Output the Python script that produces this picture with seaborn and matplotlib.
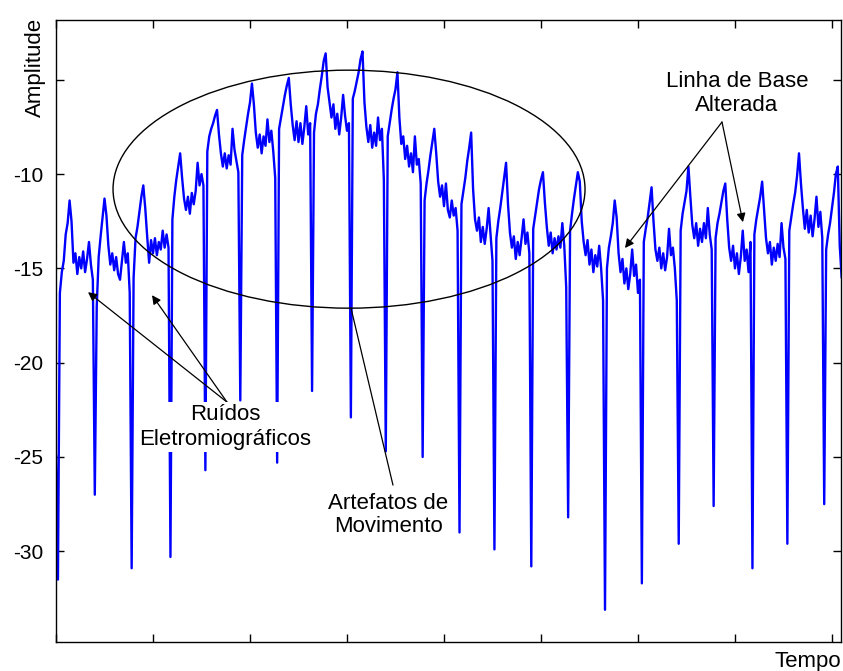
import numpy as np
import pandas as pd
import matplotlib
matplotlib.use("Agg")
import matplotlib.pyplot as plt
from matplotlib.patches import Ellipse
import seaborn as sns

# ---------------- data ----------------
sample_step = 0.02  # time units between samples (one x tick = 1 unit)

amplitude = [
    -24.9, -31.5, -16.3, -15.2, -14.6, -13.2, -12.6, -11.4, -12.5, -14.7,
    -14.2, -15.3, -14.4, -15.0, -14.1, -15.2, -14.5, -13.6, -14.8, -15.6,
    -27.0, -17.0, -14.4, -13.3, -12.3, -11.3, -12.2, -13.8, -14.8, -14.2,
    -15.1, -14.4, -15.3, -15.6, -14.6, -13.6, -14.7, -14.2, -16.3, -30.9,
    -15.5, -13.4, -12.8, -12.0, -11.2, -10.6, -11.8, -13.3, -14.7, -13.5,
    -14.2, -13.4, -14.3, -13.6, -14.0, -13.0, -13.9, -13.2, -13.9, -30.3,
    -12.4, -11.2, -10.3, -9.6, -8.9, -10.2, -11.3, -11.9, -11.2, -12.1,
    -11.0, -11.6, -10.9, -9.4, -10.6, -10.0, -10.6, -25.7, -8.8, -8.0,
    -7.6, -7.3, -6.9, -6.6, -7.9, -8.9, -9.6, -8.9, -9.7, -9.0,
    -9.5, -7.6, -8.7, -9.3, -9.9, -22.0, -9.0, -8.2, -7.5, -6.8,
    -6.2, -5.2, -6.3, -7.8, -8.6, -7.9, -8.9, -8.0, -8.5, -7.1,
    -8.3, -7.7, -8.8, -10.2, -25.3, -7.6, -7.0, -6.4, -5.8, -5.3,
    -4.9, -6.3, -7.4, -8.2, -7.2, -8.3, -7.3, -8.4, -7.5, -6.4,
    -7.9, -7.3, -21.5, -7.8, -6.8, -6.3, -5.5, -4.8, -4.0, -3.6,
    -5.4, -6.2, -7.0, -6.3, -7.6, -6.8, -7.9, -7.0, -5.8, -6.9,
    -7.7, -7.3, -22.9, -6.0, -5.6, -5.1, -4.6, -3.9, -3.5, -6.2,
    -7.5, -8.3, -7.4, -8.6, -7.8, -8.5, -7.0, -8.2, -7.6, -10.3,
    -24.7, -8.0, -7.3, -6.6, -6.0, -5.5, -4.6, -7.0, -8.4, -8.0,
    -9.2, -8.5, -9.6, -8.9, -9.9, -8.0, -9.5, -9.2, -10.5, -25.0,
    -11.4, -10.5, -9.8, -9.0, -8.3, -7.6, -8.9, -10.4, -11.2, -10.6,
    -11.7, -10.5, -11.9, -12.3, -11.4, -12.2, -11.8, -13.0, -29.0, -11.6,
    -10.9, -10.2, -9.3, -8.6, -7.8, -10.8, -12.4, -13.0, -12.3, -13.6,
    -12.8, -13.7, -12.9, -11.8, -13.2, -14.6, -29.9, -13.4, -12.5, -11.8,
    -11.0, -10.2, -9.4, -11.6, -13.1, -13.9, -13.3, -14.5, -13.6, -14.3,
    -13.4, -12.4, -13.7, -13.1, -14.2, -30.8, -12.9, -12.2, -11.5, -10.8,
    -10.3, -9.9, -11.5, -12.8, -13.8, -13.1, -14.2, -13.4, -14.0, -13.3,
    -13.9, -12.6, -13.8, -16.0, -28.2, -13.0, -12.1, -11.3, -10.6, -9.9,
    -10.4, -12.5, -13.6, -14.3, -13.5, -14.8, -14.0, -15.2, -14.3, -14.9,
    -13.8, -15.0, -16.7, -33.1, -15.0, -13.9, -13.3, -12.6, -11.4, -12.3,
    -14.2, -15.2, -14.5, -15.8, -15.0, -16.1, -15.3, -14.0, -15.4, -14.8,
    -16.3, -15.6, -31.7, -13.6, -12.9, -12.3, -11.5, -10.7, -12.5, -14.0,
    -14.6, -13.9, -15.0, -14.2, -15.1, -14.4, -12.9, -14.3, -13.9, -15.0,
    -16.7, -29.6, -13.0, -12.1, -11.5, -10.9, -9.6, -11.2, -12.7, -13.4,
    -12.6, -13.8, -12.9, -13.6, -12.6, -13.4, -11.8, -13.2, -14.0, -27.6,
    -13.4, -12.6, -12.1, -11.5, -10.9, -10.5, -12.4, -13.9, -14.6, -13.8,
    -15.0, -14.2, -15.3, -14.4, -13.0, -14.6, -14.0, -15.2, -13.6, -30.9,
    -13.2, -12.4, -11.8, -11.2, -10.4, -11.9, -13.4, -14.2, -13.6, -14.8,
    -13.9, -14.6, -13.7, -14.4, -12.6, -13.9, -14.5, -29.6, -13.0, -12.3,
    -11.6, -11.0, -10.1, -8.9, -10.5, -11.8, -12.9, -11.9, -13.1, -12.2,
    -13.3, -12.4, -11.2, -12.8, -12.0, -13.4, -27.5, -14.0, -13.2, -12.6,
    -11.8, -11.0, -10.0, -9.6, -13.8, -15.5,
]

x_ticks = [0, 1, 2, 3, 4, 5, 6, 7, 8]
y_ticks = [-30, -25, -20, -15, -10, -5]
y_tick_labels = ["-30", "-25", "-20", "-15", "-10", ""]

x_label = "Tempo"
y_label = "Amplitude"

# annotations: (text, text position, arrow targets)
emg_text = "Ruídos\nEletromiográficos"
emg_text_pos = (1.742, -23.41)
emg_arrow_from = (1.763, -22.09)
emg_targets = [(0.330, -16.26), (0.990, -16.42)]

motion_text = "Artefatos de\nMovimento"
motion_text_pos = (3.423, -28.08)
motion_line = [(3.474, -26.49), (3.041, -17.10)]
motion_ellipse_center = (3.021, -10.80)
motion_ellipse_size = (4.866, 12.62)

baseline_text = "Linha de Base\nAlterada"
baseline_text_pos = (7.02, -5.73)
baseline_arrow_from = (6.866, -7.24)
baseline_targets = [(5.866, -13.92), (7.082, -12.55)]

# ---------------- style ----------------
sns.set_style("ticks")
plt.rcParams["font.family"] = ["Liberation Sans", "DejaVu Sans"]

time = np.arange(len(amplitude)) * sample_step
df = pd.DataFrame({"Tempo": time, "Amplitude": amplitude})

W, H = 843, 671
fig = plt.figure(figsize=(W / 100, H / 100), dpi=100)
fig.patch.set_facecolor("white")
ax = fig.add_axes([56 / W, (H - 642) / H, (841 - 56) / W, (642 - 20) / H])

sns.lineplot(data=df, x="Tempo", y="Amplitude", ax=ax, color="#0000ff",
             linewidth=1.7, estimator=None, sort=False)

ax.set_xlim(0, 8.093)
ax.set_ylim(-34.81, -1.83)
ax.set_xticks(x_ticks)
ax.set_xticklabels([])
ax.set_yticks(y_ticks)
ax.set_yticklabels(y_tick_labels)
ax.set_xlabel("")
ax.set_ylabel("")

for s in ax.spines.values():
    s.set_visible(True)
    s.set_color("black")
    s.set_linewidth(1.0)

ax.tick_params(axis="both", direction="in", top=True, right=True, length=6,
               width=1.0, colors="black", labelsize=15, pad=9)

# ellipse around motion artefacts
ell = Ellipse(motion_ellipse_center, motion_ellipse_size[0], motion_ellipse_size[1],
              fill=False, edgecolor="black", linewidth=1.0, zorder=4)
ax.add_patch(ell)

arrow_kw = dict(arrowstyle="-|>", color="black", lw=0.9, mutation_scale=13,
                shrinkA=0, shrinkB=0)

for tgt in emg_targets:
    ax.annotate("", xy=tgt, xytext=emg_arrow_from, arrowprops=arrow_kw, zorder=4)
ax.text(*emg_text_pos, emg_text, ha="center", va="center", fontsize=16,
        color="black", linespacing=1.2, zorder=5,
        bbox=dict(facecolor="white", edgecolor="none", pad=1.5))

ax.plot([motion_line[0][0], motion_line[1][0]], [motion_line[0][1], motion_line[1][1]],
        color="black", lw=0.9, zorder=4)
ax.text(*motion_text_pos, motion_text, ha="center", va="center", fontsize=16,
        color="black", linespacing=1.15, zorder=5)

for tgt in baseline_targets:
    ax.annotate("", xy=tgt, xytext=baseline_arrow_from, arrowprops=arrow_kw, zorder=4)
ax.text(*baseline_text_pos, baseline_text, ha="center", va="center", fontsize=16,
        color="black", linespacing=1.2, zorder=5)

fig.text(35 / W, 1 - 67 / H, y_label, rotation=90, ha="center", va="center",
         fontsize=16, color="black")
fig.text(841 / W, 1 - 667 / H, x_label, ha="right", va="baseline",
         fontsize=16, color="black")

fig.savefig("out.png", dpi=100, facecolor="white")
